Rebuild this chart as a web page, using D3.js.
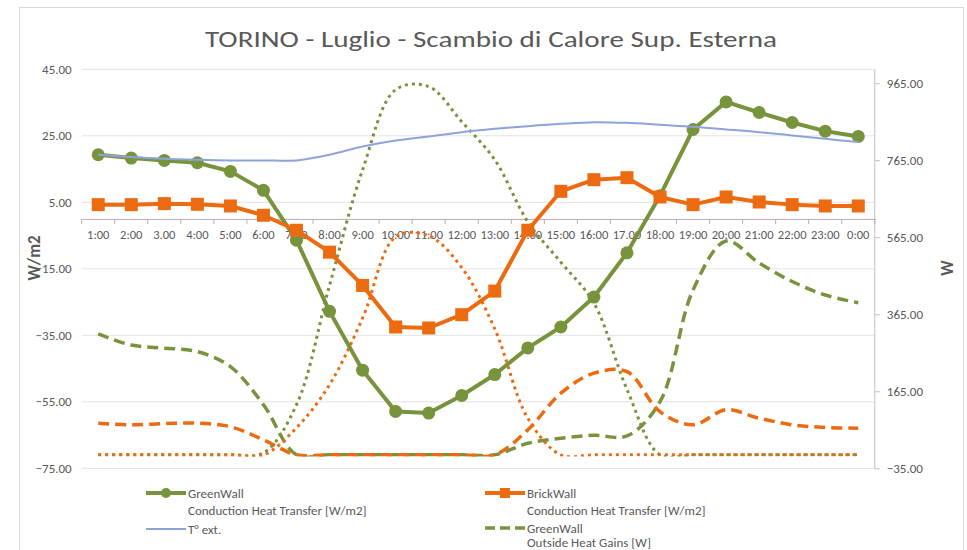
<!DOCTYPE html>
<html>
<head>
<meta charset="utf-8">
<script src="https://cdn.jsdelivr.net/npm/d3@7/dist/d3.min.js"></script>
<style>
  html, body { margin: 0; padding: 0; background: #ffffff; }
  svg { display: block; }
  text { font-family: Carlito, Calibri, "Liberation Sans Narrow", Lato, "Open Sans", Arial, sans-serif; fill: #595959; }
</style>
</head>
<body>
<svg id="chart" width="967" height="550"></svg>
<script>
// Hours of the day (category axis)
const hours = ["1:00","2:00","3.00","4:00","5:00","6:00","7:00","8:00","9:00","10:00","11:00","12:00",
               "13:00","14:00","15:00","16:00","17.00","18:00","19:00","20:00","21:00","22:00","23:00","0:00"];

// Primary axis series [W/m2] and external temperature
const greenWallConduction = [19.3, 18.3, 17.6, 16.9, 14.3, 8.6, -6.4, -27.8, -45.5, -57.9, -58.4, -53.1,
                             -46.8, -38.8, -32.5, -23.5, -10.2, 7.0, 26.9, 35.2, 32.0, 29.0, 26.4, 24.8];
const brickWallConduction = [4.3, 4.3, 4.6, 4.4, 3.9, 1.1, -3.4, -10.0, -20.0, -32.5, -32.8, -28.8,
                             -21.7, -3.4, 8.3, 11.8, 12.4, 6.6, 4.3, 6.6, 5.1, 4.3, 3.9, 3.9];
const tExt = [19.3, 18.6, 18.1, 17.8, 17.6, 17.6, 17.6, 19.3, 21.8, 23.6, 24.8, 26.1,
              27.1, 27.9, 28.6, 29.1, 28.9, 28.3, 27.7, 26.9, 26.1, 25.1, 24.1, 23.1];

// Secondary axis series [W]
const greenWallOutsideGains = [314, 285, 277, 268, 229, 130, 0, 0, 0, 0, 0, 0,
                               0, 30, 43, 51, 49, 138, 428, 555, 498, 450, 415, 395];
const brickWallOutsideGains = [82, 78, 81, 82, 73, 39, 0, 0, 0, 0, 0, 0,
                               0, 65, 160, 212, 216, 112, 78, 117, 95, 78, 71, 69];
const greenWallSolar = [0, 0, 0, 0, 0, 5, 130, 440, 740, 948, 956, 865,
                        766, 605, 500, 394, 170, 0, 0, 0, 0, 0, 0, 0];
const brickWallSolar = [0, 0, 0, 0, 0, 0, 70, 182, 355, 566, 569, 486,
                        327, 95, 0, 0, 0, 0, 0, 0, 0, 0, 0, 0];

// Axis ticks
const leftTicks = [45, 25, 5, -15, -35, -55, -75];
const rightTicks = [965, 765, 565, 365, 165, -35];

const GREEN = "#77933C", ORANGE = "#EC6B10", BLUE = "#8EA3DA";

const svg = d3.select("#chart");
svg.append("rect").attr("width", 967).attr("height", 550).attr("fill", "#fff");
// chart frame
svg.append("rect").attr("x", 19.5).attr("y", 7.5).attr("width", 944).attr("height", 570)
   .attr("fill", "none").attr("stroke", "#D9D9D9");

const plot = { left: 81.7, right: 874.8, top: 69.3, bottom: 468.3 };

const x = d3.scaleBand().domain(hours).range([plot.left, plot.right]).padding(0);
const cx = h => x(h) + x.bandwidth() / 2;
const yL = d3.scaleLinear().domain([-75, 45]).range([plot.bottom, plot.top]);
const yR = d3.scaleLinear().domain([-35, 1001]).range([plot.bottom, plot.top]);

// keep smoothed W series from dipping under their zero baseline
svg.append("defs").append("clipPath").attr("id", "aboveZero")
   .append("rect").attr("x", 0).attr("y", 0).attr("width", 967).attr("height", yR(0) + 1.8);

// Title
svg.append("text").attr("x", 491).attr("y", 47).attr("text-anchor", "middle")
   .attr("font-size", 22).attr("textLength", 572).attr("lengthAdjust", "spacingAndGlyphs")
   .text("TORINO - Luglio - Scambio di Calore Sup. Esterna");

// Gridlines
svg.append("g").selectAll("line").data(leftTicks).join("line")
   .attr("x1", plot.left).attr("x2", plot.right)
   .attr("y1", d => yL(d)).attr("y2", d => yL(d))
   .attr("stroke", "#E3E3E3").attr("stroke-width", 1);

// Left axis labels
const leftAxis = d3.axisLeft(yL).tickValues(leftTicks).tickFormat(d3.format(".2f")).tickSize(0).tickPadding(10);
const gL = svg.append("g").attr("transform", `translate(${plot.left},0)`).call(leftAxis);
gL.select(".domain").remove();
gL.selectAll("text").attr("font-size", 13).attr("fill", "#595959").attr("font-family", null);

// Right axis
const rightAxis = d3.axisRight(yR).tickValues(rightTicks).tickFormat(d3.format(".2f")).tickSize(5).tickPadding(7);
const gR = svg.append("g").attr("transform", `translate(${plot.right},0)`).call(rightAxis);
gR.select(".domain").attr("d", `M0,${plot.top}V${plot.bottom}`).attr("stroke", "#BFBFBF");
gR.selectAll("line").attr("stroke", "#BFBFBF");
gR.selectAll("text").attr("font-size", 13).attr("fill", "#595959").attr("font-family", null);

// Category axis crossing at zero
const bottomAxis = d3.axisBottom(x).tickSize(0).tickPadding(11);
const gX = svg.append("g").attr("transform", `translate(0,${yL(0)})`).call(bottomAxis);
gX.select(".domain").attr("stroke", "#BCA8BC");
gX.selectAll("text").attr("font-size", 12.5).attr("fill", "#595959").attr("font-family", null);
const bounds = hours.map(h => x(h)).concat([plot.right]);
gX.append("g").selectAll("line").data(bounds).join("line")
  .attr("x1", d => d).attr("x2", d => d).attr("y1", 0).attr("y2", 5)
  .attr("stroke", "#BCA8BC");

// Axis titles
svg.append("text").attr("transform", `translate(40,258) rotate(-90)`).attr("text-anchor", "middle")
   .attr("font-size", 17).attr("font-weight", "bold").attr("fill", "#262626").text("W/m2");
svg.append("text").attr("transform", `translate(953,268) rotate(-90)`).attr("text-anchor", "middle")
   .attr("font-size", 17).attr("font-weight", "bold").attr("fill", "#262626").text("W");

const smooth = d3.curveCardinal.tension(0);
const lineR = d3.line().x((d, i) => cx(hours[i])).y(d => yR(d)).curve(d3.curveCatmullRom.alpha(0.5));
const lineLsmooth = d3.line().x((d, i) => cx(hours[i])).y(d => yL(d)).curve(smooth);
const lineL = d3.line().x((d, i) => cx(hours[i])).y(d => yL(d));

// Secondary axis series (drawn underneath)
const sec = svg.append("g").attr("clip-path", "url(#aboveZero)");
sec.append("path").attr("d", lineR(greenWallOutsideGains)).attr("fill", "none")
   .attr("stroke", GREEN).attr("stroke-width", 3.5).attr("stroke-dasharray", "11,6");
sec.append("path").attr("d", lineR(brickWallOutsideGains)).attr("fill", "none")
   .attr("stroke", ORANGE).attr("stroke-width", 3.5).attr("stroke-dasharray", "11,6");
sec.append("path").attr("d", lineR(greenWallSolar)).attr("fill", "none")
   .attr("stroke", GREEN).attr("stroke-width", 3).attr("stroke-dasharray", "3,4");
sec.append("path").attr("d", lineR(brickWallSolar)).attr("fill", "none")
   .attr("stroke", ORANGE).attr("stroke-width", 3).attr("stroke-dasharray", "3,4");

// Primary axis series
svg.append("path").attr("d", lineL(greenWallConduction)).attr("fill", "none")
   .attr("stroke", GREEN).attr("stroke-width", 4).attr("stroke-linejoin", "round");
svg.append("g").selectAll("circle").data(greenWallConduction).join("circle")
   .attr("cx", (d, i) => cx(hours[i])).attr("cy", d => yL(d)).attr("r", 6.5).attr("fill", GREEN);

svg.append("path").attr("d", lineL(brickWallConduction)).attr("fill", "none")
   .attr("stroke", ORANGE).attr("stroke-width", 4).attr("stroke-linejoin", "round");
svg.append("g").selectAll("rect").data(brickWallConduction).join("rect")
   .attr("x", (d, i) => cx(hours[i]) - 6.5).attr("y", d => yL(d) - 6.5)
   .attr("width", 13).attr("height", 13).attr("fill", ORANGE);

svg.append("path").attr("d", lineLsmooth(tExt)).attr("fill", "none")
   .attr("stroke", BLUE).attr("stroke-width", 2);

// Legend
const lg = svg.append("g");
function legendText(xp, yp, t) {
  lg.append("text").attr("x", xp).attr("y", yp).attr("dy", "0.35em").attr("font-size", 13).text(t);
}
// GreenWall conduction
lg.append("line").attr("x1", 146).attr("x2", 186).attr("y1", 493).attr("y2", 493)
  .attr("stroke", GREEN).attr("stroke-width", 4);
lg.append("circle").attr("cx", 166).attr("cy", 493).attr("r", 5).attr("fill", GREEN);
legendText(188, 493, "GreenWall");
legendText(188, 510, "Conduction Heat Transfer [W/m2]");
// BrickWall conduction
lg.append("line").attr("x1", 485).attr("x2", 525).attr("y1", 493).attr("y2", 493)
  .attr("stroke", ORANGE).attr("stroke-width", 4);
lg.append("rect").attr("x", 500).attr("y", 488).attr("width", 10).attr("height", 10).attr("fill", ORANGE);
legendText(527, 493, "BrickWall");
legendText(527, 510, "Conduction Heat Transfer [W/m2]");
// External temperature
lg.append("line").attr("x1", 146).attr("x2", 186).attr("y1", 529).attr("y2", 529)
  .attr("stroke", BLUE).attr("stroke-width", 2);
legendText(188, 529, "T° ext.");
// GreenWall outside gains
lg.append("line").attr("x1", 485).attr("x2", 525).attr("y1", 528).attr("y2", 528)
  .attr("stroke", GREEN).attr("stroke-width", 3.5).attr("stroke-dasharray", "10,5");
legendText(527, 528, "GreenWall");
legendText(527, 542, "Outside Heat Gains [W]");
</script>
</body>
</html>
